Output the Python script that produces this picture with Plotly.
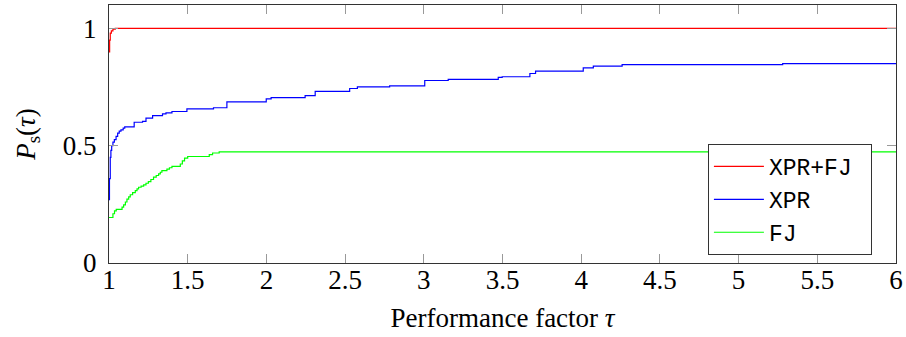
import plotly.graph_objects as go

# ---- data ----
red_t = [1.0, 1.004, 1.008, 1.015, 1.025, 1.04, 6.0]
red_p = [0.90, 0.95, 0.98, 0.99, 0.997, 1.0, 1.0]

blue_t = [1.0, 1.003, 1.008, 1.012, 1.017, 1.025, 1.034, 1.045, 1.055, 1.065,
          1.076, 1.09, 1.10, 1.16, 1.213, 1.235, 1.277, 1.34, 1.362, 1.40,
          1.495, 1.664, 1.749, 1.999, 2.03, 2.246, 2.31, 2.529, 2.578, 2.783,
          3.006, 3.155, 3.473, 3.498, 3.674, 3.71, 4.013, 4.077, 4.26, 5.28, 6.0]
blue_p = [0.27, 0.36, 0.45, 0.48, 0.50, 0.515, 0.526, 0.54, 0.554, 0.562,
          0.568, 0.575, 0.580, 0.600, 0.604, 0.618, 0.628, 0.636, 0.640, 0.646,
          0.657, 0.662, 0.687, 0.700, 0.705, 0.714, 0.732, 0.744, 0.751, 0.755,
          0.778, 0.783, 0.791, 0.794, 0.808, 0.818, 0.832, 0.839, 0.846, 0.850, 0.850]

green_t = [1.0, 1.025, 1.035, 1.046, 1.083, 1.093, 1.104, 1.114, 1.125, 1.135,
           1.15, 1.167, 1.178, 1.188, 1.204, 1.22, 1.235, 1.25, 1.266, 1.283,
           1.30, 1.315, 1.326, 1.336, 1.368, 1.384, 1.40, 1.453, 1.466, 1.48,
           1.50, 1.637, 1.658, 1.70, 6.0]
green_p = [0.194, 0.21, 0.222, 0.229, 0.238, 0.248, 0.26, 0.272, 0.282, 0.291,
           0.30, 0.309, 0.316, 0.323, 0.328, 0.333, 0.34, 0.347, 0.356, 0.366,
           0.373, 0.380, 0.387, 0.394, 0.400, 0.406, 0.412, 0.422, 0.435, 0.447,
           0.454, 0.462, 0.469, 0.474, 0.474]

series_names = ["XPR+FJ", "XPR", "FJ"]
x_ticks = [1, 1.5, 2, 2.5, 3, 3.5, 4, 4.5, 5, 5.5, 6]
x_tick_labels = ["1", "1.5", "2", "2.5", "3", "3.5", "4", "4.5", "5", "5.5", "6"]
y_ticks = [0, 0.5, 1]
y_tick_labels = ["0", "0.5", "1"]

serif = "Liberation Serif, Times New Roman, serif"
mono = "Liberation Mono, DejaVu Sans Mono, monospace"

fig = go.Figure()
for t, p, name, color in [
    (red_t, red_p, series_names[0], "rgb(255,0,0)"),
    (blue_t, blue_p, series_names[1], "rgb(0,0,255)"),
    (green_t, green_p, series_names[2], "rgb(0,255,0)"),
]:
    # trailing no-break space only pads the legend box on the right
    fig.add_trace(go.Scatter(x=t, y=p, mode="lines", name=name + "\u00a0",
                             line=dict(color=color, width=1.2, shape="hv")))

axis_common = dict(
    showgrid=False, zeroline=False, showline=True, linecolor="#333333",
    linewidth=1.2, mirror="ticks", ticks="inside", ticklen=9,
    tickcolor="#999999", tickwidth=1, automargin=False,
    tickfont=dict(family=serif, size=27, color="black"),
)

fig.update_layout(
    width=906, height=337,
    margin=dict(l=109, r=10, t=5, b=74),
    paper_bgcolor="white", plot_bgcolor="white",
    showlegend=True,
    legend=dict(
        x=0.761, y=0.031, xanchor="left", yanchor="bottom",
        bgcolor="white", bordercolor="#333333", borderwidth=1,
        font=dict(family=mono, size=23, color="black"),
        itemwidth=50, tracegroupgap=0,
    ),
    xaxis=dict(range=[1, 6], tickvals=x_ticks, ticktext=x_tick_labels,
               ticklabelstandoff=-8,
               title=dict(text="Performance factor <i>τ</i>",
                          font=dict(family=serif, size=27, color="black"),
                          standoff=14),
               **axis_common),
    yaxis=dict(range=[0, 1.1], tickvals=y_ticks, ticktext=y_tick_labels,
               ticklabelstandoff=6,
               title=dict(text="<i>P</i><sub>s</sub>(<i>τ</i>)",
                          font=dict(family=serif, size=27, color="black"),
                          standoff=19),
               **axis_common),
)

fig.write_html("out.html",
               config={"displayModeBar": False},
               post_script="document.body.style.margin='0';document.body.style.overflow='hidden';")
